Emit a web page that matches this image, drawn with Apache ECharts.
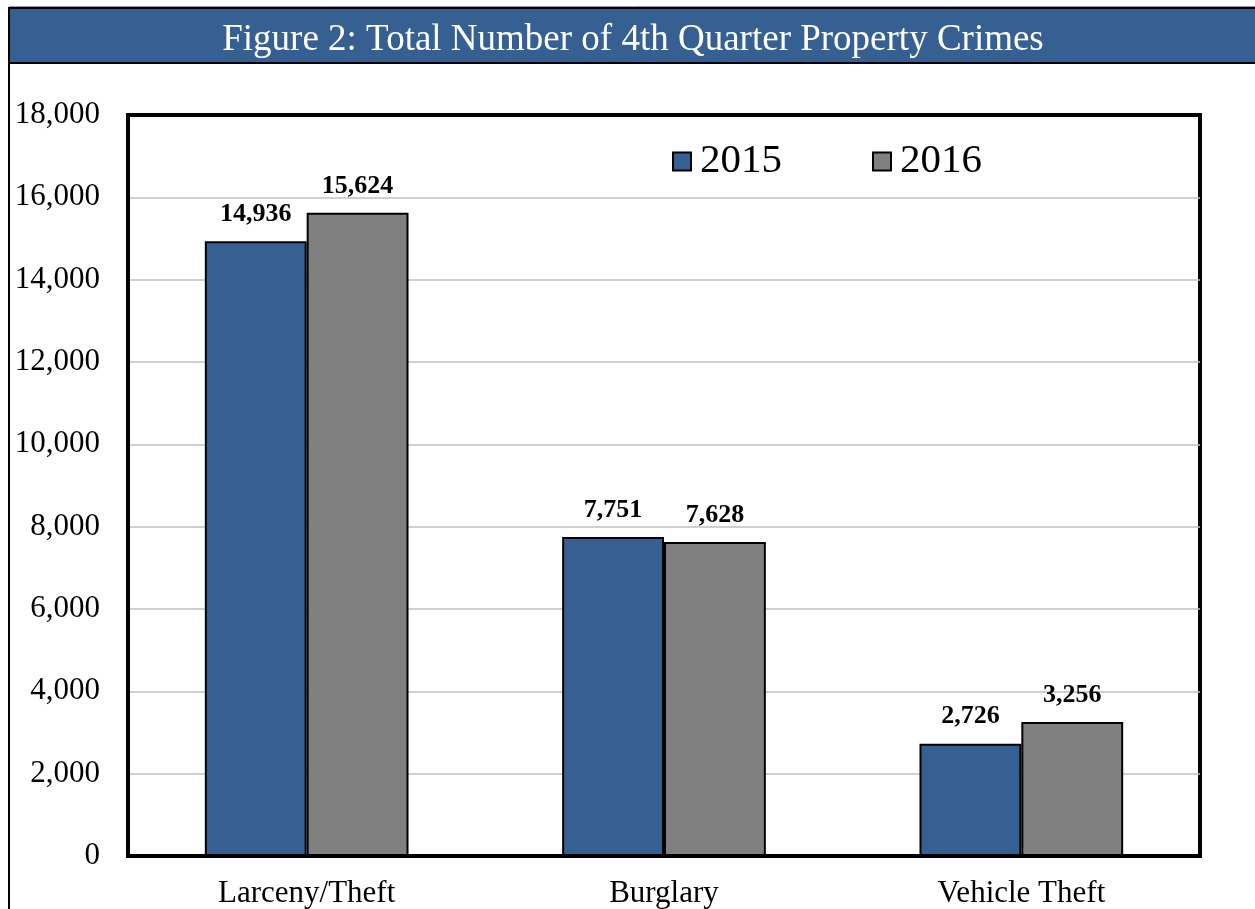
<!DOCTYPE html>
<html>
<head>
<meta charset="utf-8">
<script src="https://cdn.jsdelivr.net/npm/echarts@6/dist/echarts.min.js"></script>
<style>
html,body{margin:0;padding:0;background:#fff;}
#chart{width:1255px;height:909px;}
</style>
</head>
<body>
<div id="chart"></div>
<script>
const categories = ['Larceny/Theft', 'Burglary', 'Vehicle Theft'];
const seriesNames = ['2015', '2016'];
const values2015 = [14936, 7751, 2726];
const values2016 = [15624, 7628, 3256];
const yTicks = [0, 2000, 4000, 6000, 8000, 10000, 12000, 14000, 16000, 18000];
const titleText = 'Figure 2: Total Number of 4th Quarter Property Crimes';

const BLUE = '#376092';
const GRAY = '#808080';
const FONT = "'Liberation Serif', 'Times New Roman', serif";

const chart = echarts.init(document.getElementById('chart'), null, {renderer: 'canvas'});
const fmt = v => Number(v).toLocaleString('en-US');

const option = {
  backgroundColor: '#fff',
  animation: false,
  graphic: [
    { type: 'rect', shape: {x: 9, y: 8, width: 1260, height: 55},
      style: {fill: BLUE, stroke: '#000', lineWidth: 2}, z: 1 },
    { type: 'line', shape: {x1: 9, y1: 6.5, x2: 1260, y2: 6.5},
      style: {stroke: '#9a9a9a', lineWidth: 1}, z: 1 },
    { type: 'line', shape: {x1: 9, y1: 63, x2: 9, y2: 915},
      style: {stroke: '#000', lineWidth: 2}, z: 1 },
    { type: 'text', x: 633, y: 40,
      style: {text: titleText, fill: '#fff', font: "37px " + FONT, align: 'center', verticalAlign: 'middle'}, z: 2 }
  ],
  legend: {
    data: seriesNames,
    left: 667, top: 136,
    itemWidth: 18, itemHeight: 18, itemGap: 90,
    icon: 'rect',
    textStyle: {fontFamily: FONT, fontSize: 41, color: '#000', padding: [0, 0, 0, 4]}
  },
  grid: {
    left: 128, right: 55, top: 115, bottom: 53,
    show: true, borderColor: '#000', borderWidth: 4, backgroundColor: 'transparent',
    containLabel: false
  },
  xAxis: {
    type: 'category', data: categories,
    axisLine: {show: true, lineStyle: {color: '#000', width: 4}}, axisTick: {show: false},
    axisLabel: {fontFamily: FONT, fontSize: 31, color: '#000', margin: 22}
  },
  yAxis: {
    type: 'value', min: yTicks[0], max: yTicks[yTicks.length - 1], interval: yTicks[1] - yTicks[0],
    axisLine: {show: true, lineStyle: {color: '#000', width: 4}}, axisTick: {show: false},
    axisLabel: {fontFamily: FONT, fontSize: 31, color: '#000', margin: 28, formatter: fmt},
    splitLine: {showMinLine: false, showMaxLine: false, lineStyle: {color: '#BFBFBF', width: 1.5}}
  },
  series: [
    { name: seriesNames[0], type: 'bar', data: values2015, barGap: '0%', barCategoryGap: '43%',
      itemStyle: {color: BLUE, borderColor: '#000', borderWidth: 2},
      label: {show: true, position: 'top', distance: 14, formatter: p => fmt(p.value),
        fontFamily: FONT, fontSize: 26, fontWeight: 'bold', color: '#000'} },
    { name: seriesNames[1], type: 'bar', data: values2016, barGap: '0%', barCategoryGap: '43%',
      itemStyle: {color: GRAY, borderColor: '#000', borderWidth: 2},
      label: {show: true, position: 'top', distance: 14, formatter: p => fmt(p.value),
        fontFamily: FONT, fontSize: 26, fontWeight: 'bold', color: '#000'} }
  ]
};
chart.setOption(option);
</script>
</body>
</html>
